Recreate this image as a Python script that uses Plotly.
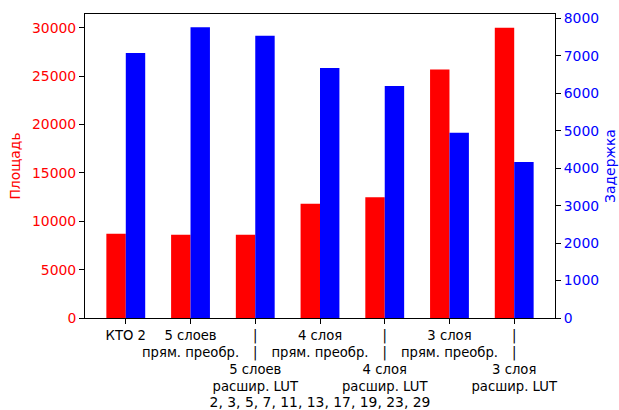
import plotly.graph_objects as go

categories = [
    "КТО 2",
    "5 слоев<br>прям. преобр.",
    "|<br>|<br>5 слоев<br>расшир. LUT",
    "4 слоя<br>прям. преобр.",
    "|<br>|<br>4 слоя<br>расшир. LUT",
    "3 слоя<br>прям. преобр.",
    "|<br>|<br>3 слоя<br>расшир. LUT",
]
area = [8700, 8600, 8600, 11800, 12480, 25700, 30000]
delay = [7080, 7770, 7540, 6680, 6200, 4950, 4170]
area_ticks = [0, 5000, 10000, 15000, 20000, 25000, 30000]
delay_ticks = [0, 1000, 2000, 3000, 4000, 5000, 6000, 7000, 8000]
x_title = "2, 3, 5, 7, 11, 13, 17, 19, 23, 29"

FONT = "DejaVu Sans"
FS = 13.9
FSX = 13.2

fig = go.Figure()
fig.add_trace(go.Bar(x=categories, y=area, name="Площадь", marker_color="#ff0000",
                     marker_line_width=0, width=0.3, offset=-0.3, yaxis="y"))
fig.add_trace(go.Bar(x=categories, y=delay, name="Задержка", marker_color="#0000ff",
                     marker_line_width=0, width=0.3, offset=0, yaxis="y2"))

fig.update_layout(
    width=619, height=410,
    margin=dict(l=85, r=64, t=14, b=92),
    paper_bgcolor="white", plot_bgcolor="white",
    barmode="overlay",
    showlegend=False,
    font=dict(family=FONT, size=FS, color="black"),
    xaxis=dict(
        type="category", range=[-0.63, 6.63],
        showline=True, linecolor="black", linewidth=1, mirror=True,
        ticks="outside", ticklen=5, tickcolor="black", tickwidth=1,
        tickangle=0,
        showgrid=False, zeroline=False,
        tickfont=dict(family=FONT, size=FSX, color="black"),
        title=dict(text=x_title, font=dict(family=FONT, size=FS, color="black"), standoff=2),
        automargin=False,
    ),
    yaxis=dict(
        range=[0, 31428], tickvals=area_ticks, tickformat="d",
        showline=True, linecolor="black", linewidth=1,
        ticks="outside", ticklen=5, tickcolor="black", tickwidth=1,
        showgrid=False, zeroline=False,
        tickfont=dict(family=FONT, size=FS, color="#ff0000"),
        title=dict(text="Площадь", font=dict(family=FONT, size=FS, color="#ff0000"), standoff=8),
        automargin=False,
    ),
    yaxis2=dict(
        range=[0, 8121], tickvals=delay_ticks, tickformat="d", overlaying="y", side="right",
        showline=True, linecolor="black", linewidth=1,
        ticks="outside", ticklen=5, tickcolor="black", tickwidth=1,
        showgrid=False, zeroline=False,
        tickfont=dict(family=FONT, size=FS, color="#0000ff"),
        title=dict(text="Задержка", font=dict(family=FONT, size=FS, color="#0000ff"), standoff=7),
        automargin=False,
    ),
)

fig.write_html(
    "out.html",
    config={"displayModeBar": False},
    post_script="document.body.style.margin='0';document.body.style.overflow='hidden';",
)
